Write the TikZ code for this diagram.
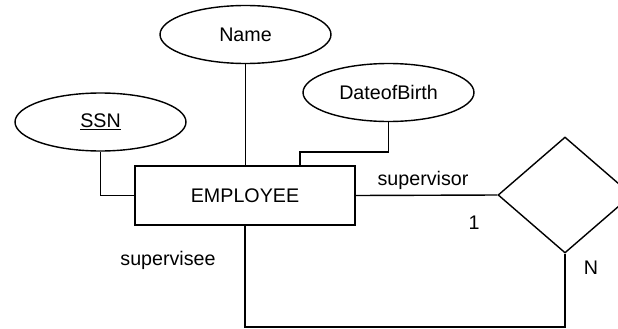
\documentclass[tikz,border=0pt]{standalone}
\usepackage{fontspec}
\setmainfont{Liberation Sans}
\usepackage{tikz}
\usetikzlibrary{positioning, shapes.geometric}

\begin{document}
\begin{tikzpicture}[x=0.02cm, y=-0.02cm, line width=0.8pt,
        attr/.style={draw, ellipse, minimum width=3.42cm, minimum height=1.16cm, inner sep=0pt},
        entity/.style={draw, rectangle, minimum width=4.4cm, minimum height=1.18cm, inner sep=0pt},
        rel/.style={draw, diamond, minimum width=2.68cm, minimum height=2.32cm, inner sep=0pt},
        lbl/.style={inner sep=0pt},
        every node/.style={font=\fontsize{11.2}{13}\selectfont}]
        \useasboundingbox (0,0) rectangle (618,328);

        % entity and its attributes
        \node[entity] (emp) at (245,195.5) {EMPLOYEE};
        \node[attr] (name) at (245.5,34.5) {Name};
        \node[attr] (ssn) at (100.5,122) {\underline{SSN}};
        \node[attr] (dob) at (388.5,92.5) {DateofBirth};

        \draw (name.south) -- (name.south |- emp.north);
        \draw (ssn.south) |- (emp.west);
        \coordinate (dobjoin) at (300,152);
        \draw (dob.south) |- (dobjoin) -- (dobjoin |- emp.north);

        % recursive relationship
        \node[rel] (sup) at (565,195) {};
        \coordinate (loop) at (565,327);
        \draw (emp.east) -- (sup.west);
        \draw (sup.south) -- (loop) -| (emp.south);

        \node[lbl] (supervisor) at (423,180) {supervisor};
        \node[lbl] (one) at (474,223) {1};
        \node[lbl] (many) at (591,268) {N};
        \node[lbl] (supervisee) at (168,260) {supervisee};
\end{tikzpicture}
\end{document}
